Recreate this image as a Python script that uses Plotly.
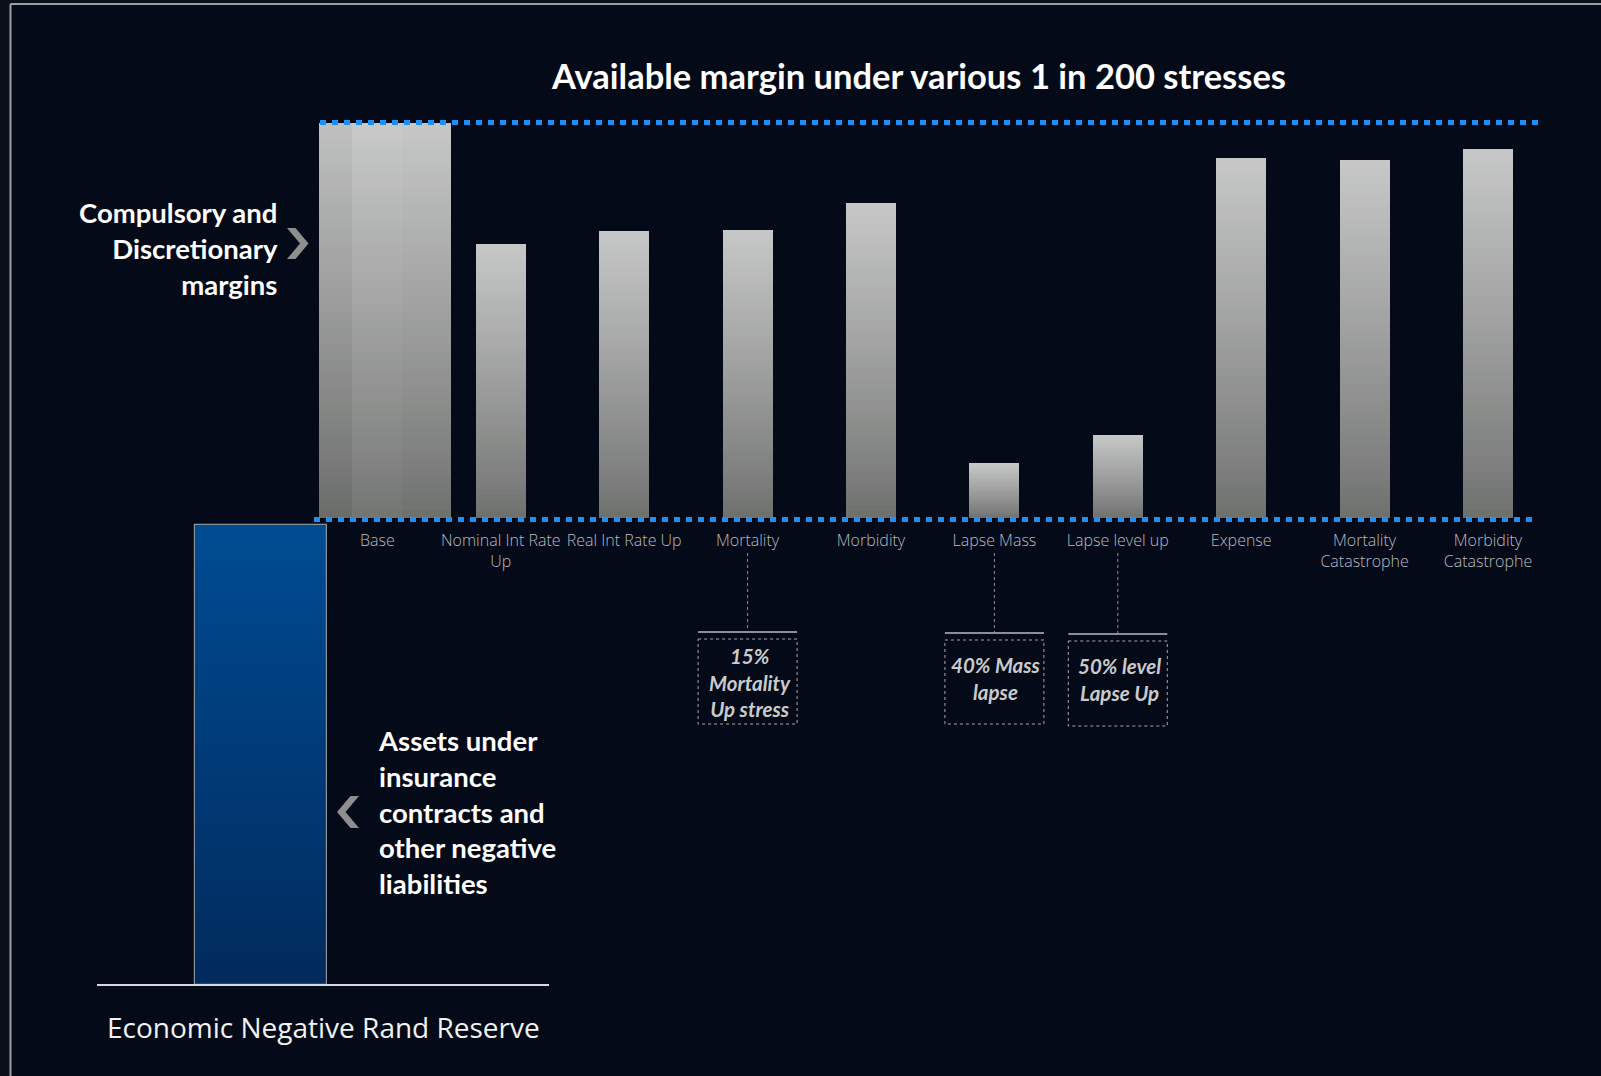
import plotly.graph_objects as go

# ---------------- data ----------------
categories = ["Base", "Nominal Int Rate<br>Up", "Real Int Rate Up", "Mortality", "Morbidity",
              "Lapse Mass", "Lapse level up", "Expense", "Mortality<br>Catastrophe",
              "Morbidity<br>Catastrophe"]
margin_values = [100.0, 69.3, 72.6, 72.9, 79.6, 13.8, 21.0, 91.0, 90.4, 93.3]
reserve_label = "Economic Negative Rand Reserve"
reserve_value = -116.3
callout_categories = ["Mortality", "Lapse Mass", "Lapse level up"]
callout_texts = ["15%<br>Mortality<br>Up stress", "40% Mass<br>lapse", "50% level<br>Lapse Up"]
title_text = "Available margin under various 1 in 200 stresses"
left_note = "Compulsory and<br>Discretionary<br>margins"
lower_note = "Assets under<br>insurance<br>contracts and<br>other negative<br>liabilities"

# ---------------- layout helpers (pixel -> axis units) ----------------
W, H = 1601, 1076
CX0, DX = 377.4, 123.4      # pixel of category 0, pixel per category
Y0, DY = 518.0, 3.955       # pixel of zero, pixel per unit


def X(p):
    return (p - CX0) / DX


def Y(p):
    return (Y0 - p) / DY


n = len(categories)
xs = list(range(n))
bar_w = 50 / DX
widths = [132 / DX] + [bar_w] * (n - 1)
offsets = [X(318.6)] + [-bar_w / 2] * (n - 1)

fig = go.Figure()


def lerp(c1, c2, t):
    return "rgb(%d,%d,%d)" % tuple(round(a + (b - a) * t) for a, b in zip(c1, c2))


# grey gradient bars built from stacked slices of each value
NSEG = 48
bottom_c, top_c = (110, 112, 110), (198, 199, 199)
for k in range(NSEG):
    t = (k + 0.5) / NSEG
    fig.add_trace(go.Bar(
        x=xs, y=[v / NSEG for v in margin_values], base=[v * k / NSEG for v in margin_values],
        width=widths, offset=offsets, marker=dict(color=lerp(bottom_c, top_c, t ** 0.9), line_width=0),
        showlegend=False, hoverinfo="skip"))

# subtle stripes on the base bar
fig.add_trace(go.Bar(x=[0], y=[margin_values[0]], width=[(351.7 - 318.6) / DX], offset=[X(318.6)],
                     marker=dict(color="rgba(0,0,0,0.035)", line_width=0), showlegend=False, hoverinfo="skip"))
fig.add_trace(go.Bar(x=[0], y=[margin_values[0]], width=[bar_w], offset=[X(351.7)],
                     marker=dict(color="rgba(255,255,255,0.035)", line_width=0), showlegend=False, hoverinfo="skip"))

# blue reserve bar (negative), gradient slices
res_x = X(261)
res_w = 131.7 / DX
gap = 1.8
NB = 40
blue_top, blue_bot = (0, 76, 148), (1, 42, 92)
for k in range(NB):
    t = (k + 0.5) / NB
    fig.add_trace(go.Bar(x=[res_x], y=[reserve_value / NB], base=[-gap + reserve_value * k / NB],
                         width=[res_w], marker=dict(color=lerp(blue_top, blue_bot, t), line_width=0),
                         showlegend=False, hoverinfo="skip"))
fig.add_trace(go.Bar(x=[res_x], y=[reserve_value], base=[-gap], width=[res_w],
                     marker=dict(color="rgba(0,0,0,0)", line=dict(color="#8a929c", width=1.2)),
                     showlegend=False, hoverinfo="skip"))

shapes = []
# background panel + frame
shapes.append(dict(type="rect", xref="x", yref="y", x0=X(10.5), x1=X(W + 5), y0=Y(4), y1=Y(H + 5),
                   fillcolor="#040a17", line_width=0, layer="below"))
shapes.append(dict(type="line", xref="x", yref="y", x0=X(10.5), x1=X(W + 5), y0=Y(4), y1=Y(4),
                   line=dict(color="#9aa0a8", width=2), layer="below"))
shapes.append(dict(type="line", xref="x", yref="y", x0=X(10.5), x1=X(10.5), y0=Y(4), y1=Y(H + 5),
                   line=dict(color="#9aa0a8", width=2), layer="below"))

# dotted blue reference lines: at base level and at zero
shapes.append(dict(type="line", xref="x", yref="y", x0=X(320), x1=X(1543), y0=margin_values[0],
                   y1=margin_values[0], line=dict(color="#1f8ff5", width=5, dash="6px,6px")))
shapes.append(dict(type="line", xref="x", yref="y", x0=X(314), x1=X(1536), y0=-0.4, y1=-0.4,
                   line=dict(color="#1f8ff5", width=5, dash="6px,6px")))

# baseline for the reserve chart
res_bottom = -gap + reserve_value
shapes.append(dict(type="line", xref="x", yref="y", x0=X(97), x1=X(549), y0=res_bottom, y1=res_bottom,
                   line=dict(color="#d6d8db", width=2)))

# chevrons
def poly(pts):
    return "M " + " L ".join("%f,%f" % (X(a), Y(b)) for a, b in pts) + " Z"


shapes.append(dict(type="path", xref="x", yref="y",
                   path=poly([(287, 228), (295.5, 228), (308.5, 243.5), (295.5, 259), (287, 259), (300, 243.5)]),
                   fillcolor="#8e8e8e", line_width=0))
shapes.append(dict(type="path", xref="x", yref="y",
                   path=poly([(359, 796), (350.5, 796), (337, 812), (350.5, 828), (359, 828), (345.5, 812)]),
                   fillcolor="#8e8e8e", line_width=0))

annotations = []
# callouts
callout_geo = {  # horizontal line y / box top / box bottom / text centre (pixels)
    "Mortality": (632, 639, 724, 682),
    "Lapse Mass": (633, 640, 724, 678),
    "Lapse level up": (634, 641, 726, 679),
}
cat_plain = [c.replace("<br>", " ") for c in categories]
for cat, txt in zip(callout_categories, callout_texts):
    i = cat_plain.index(cat)
    hy, bt, bb, tc = callout_geo[cat]
    half = 49.5 / DX
    shapes.append(dict(type="line", xref="x", yref="y", x0=i, x1=i, y0=Y(553), y1=Y(hy),
                       line=dict(color="#8c8f94", width=1, dash="dot")))
    shapes.append(dict(type="line", xref="x", yref="y", x0=i - half, x1=i + half, y0=Y(hy), y1=Y(hy),
                       line=dict(color="#8c8f94", width=2)))
    shapes.append(dict(type="rect", xref="x", yref="y", x0=i - half, x1=i + half, y0=Y(bt), y1=Y(bb),
                       line=dict(color="#a5a8ad", width=1, dash="dot")))
    annotations.append(dict(x=i + 2 / DX, y=Y(tc), xref="x", yref="y", text="<i>" + txt + "</i>",
                            showarrow=False, xanchor="center", yanchor="middle", align="center",
                            font=dict(family="Lato", size=20.5, color="#c9cacc", weight="bold")))

annotations.append(dict(x=X(918), y=Y(75), xref="x", yref="y", text=title_text, showarrow=False,
                        xanchor="center", yanchor="middle",
                        font=dict(family="Lato", size=34.5, color="#ffffff", weight="bold")))
annotations.append(dict(x=X(280), y=Y(248), xref="x", yref="y", text=left_note, showarrow=False,
                        xanchor="right", yanchor="middle", align="right",
                        font=dict(family="Lato", size=27.5, color="#ffffff", weight="bold")))
annotations.append(dict(x=X(376), y=Y(812), xref="x", yref="y", text=lower_note, showarrow=False,
                        xanchor="left", yanchor="middle", align="left",
                        font=dict(family="Lato", size=27.5, color="#ffffff", weight="bold")))
annotations.append(dict(x=X(323), y=Y(1027), xref="x", yref="y", text=reserve_label, showarrow=False,
                        xanchor="center", yanchor="middle",
                        font=dict(family="Open Sans", size=28, color="#f2f2f2")))

fig.update_layout(
    width=W, height=H, margin=dict(l=0, r=0, t=0, b=0),
    paper_bgcolor="#0a0f1a", plot_bgcolor="rgba(0,0,0,0)",
    barmode="overlay", bargap=0, showlegend=False,
    shapes=shapes, annotations=annotations,
    xaxis=dict(range=[X(0), X(W)], tickmode="array", tickvals=xs, ticktext=categories,
               showgrid=False, zeroline=False, showline=False, ticks="",
               anchor="free", position=(H - Y0) / H, ticklabelstandoff=11,
               tickfont=dict(family="Open Sans", size=16, color="#b7bbc1", weight=300),
               fixedrange=True),
    yaxis=dict(range=[Y(H), Y(0)], showgrid=False, zeroline=False, showline=False,
               showticklabels=False, fixedrange=True),
)

fig.write_html("out.html", config={"displayModeBar": False},
               post_script="document.body.style.margin='0';document.body.style.background='#0a0f1a';")
